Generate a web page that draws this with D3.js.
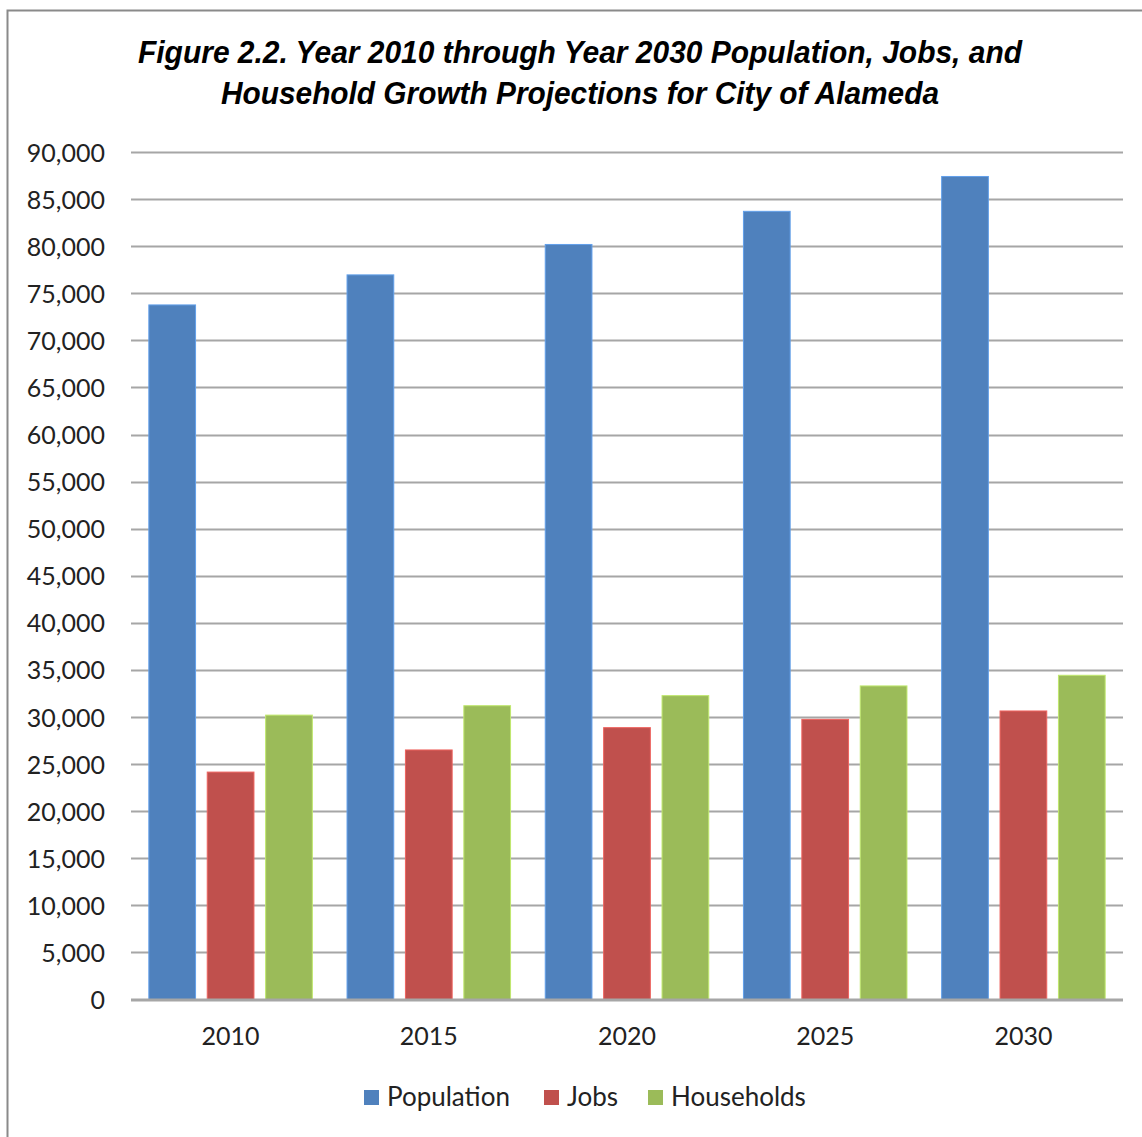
<!DOCTYPE html>
<html>
<head>
<meta charset="utf-8">
<script src="https://cdn.jsdelivr.net/npm/d3@7"></script>
<style>
  body { margin: 0; background: #fff; }
  svg { display: block; }
</style>
</head>
<body>
<svg id="chart" width="1142" height="1137"></svg>
<script>
// Data
var years = ["2010", "2015", "2020", "2025", "2030"];
var seriesNames = ["Population", "Jobs", "Households"];
var population = [73760, 76950, 80180, 83700, 87400];
var jobs = [24150, 26500, 28870, 29750, 30640];
var households = [30200, 31200, 32270, 33300, 34430];
var yTicks = [0, 5000, 10000, 15000, 20000, 25000, 30000, 35000, 40000, 45000,
              50000, 55000, 60000, 65000, 70000, 75000, 80000, 85000, 90000];
var titleLines = ["Figure 2.2. Year 2010 through Year 2030 Population, Jobs, and",
                  "Household Growth Projections for City of Alameda"];

var colors = ["#4F81BD", "#C0504D", "#9BBB59"];
var font = "Lato, 'Open Sans', sans-serif";

// build rows for the grouped bars
var rows = years.map(function (yr, i) {
  return { year: yr, values: [population[i], jobs[i], households[i]] };
});

var svg = d3.select("#chart");

// outer frame (only left and top edges are in view)
svg.append("rect")
  .attr("x", 7.5).attr("y", 10.5)
  .attr("width", 1200).attr("height", 1200)
  .attr("fill", "#fff")
  .attr("stroke", "#8a8a8a")
  .attr("stroke-width", 2);

// title
svg.append("g").selectAll("text")
  .data(titleLines)
  .enter().append("text")
  .attr("x", 580)
  .attr("y", function (d, i) { return 63 + i * 41; })
  .attr("text-anchor", "middle")
  .attr("textLength", function (d, i) { return i == 0 ? 884 : 718; })
  .attr("lengthAdjust", "spacingAndGlyphs")
  .style("font-family", "'Liberation Sans Narrow', 'Liberation Sans', sans-serif")
  .style("font-weight", "bold")
  .style("font-style", "italic")
  .style("font-size", "31px")
  .text(function (d) { return d; });

// plot area
var plotLeft = 131, plotRight = 1123, plotTop = 152, plotBottom = 999.5;

var y = d3.scaleLinear()
  .domain([0, 90000])
  .range([plotBottom, plotTop]);

var x0 = d3.scaleBand()
  .domain(years)
  .range([plotLeft, plotRight])
  .paddingInner(0.175)
  .paddingOuter(0.09);

var x1 = d3.scaleBand()
  .domain(seriesNames)
  .range([0, x0.bandwidth()])
  .paddingInner(0.2);

// gridlines
svg.append("g").selectAll("line")
  .data(yTicks)
  .enter().append("line")
  .attr("x1", plotLeft).attr("x2", plotRight)
  .attr("y1", function (d) { return Math.round(y(d)) + 0.5; })
  .attr("y2", function (d) { return Math.round(y(d)) + 0.5; })
  .attr("stroke", "#a6a6a6")
  .attr("stroke-width", 2);

// y axis labels
var yAxis = d3.axisLeft(y)
  .tickValues(yTicks)
  .tickFormat(d3.format(","))
  .tickSize(0)
  .tickPadding(0);

svg.append("g")
  .attr("transform", "translate(105,0)")
  .call(yAxis)
  .call(function (g) { g.select(".domain").remove(); })
  .selectAll("text")
  .attr("dy", "0.36em")
  .style("font-family", font)
  .style("font-size", "25px")
  .attr("fill", "#222");

// bars
var groups = svg.append("g").selectAll("g")
  .data(rows)
  .enter().append("g")
  .attr("transform", function (d) { return "translate(" + x0(d.year) + ",0)"; });

groups.selectAll("rect")
  .data(function (d) {
    return d.values.map(function (v, k) { return { name: seriesNames[k], value: v, k: k }; });
  })
  .enter().append("rect")
  .attr("x", function (d) { return x1(d.name); })
  .attr("y", function (d) { return y(d.value); })
  .attr("width", x1.bandwidth())
  .attr("height", function (d) { return y(0) - y(d.value); })
  .attr("fill", function (d) { return colors[d.k]; })
  .attr("stroke", function (d) { return d3.color(colors[d.k]).brighter(0.6); })
  .attr("stroke-width", 1);

// baseline
svg.append("line")
  .attr("x1", plotLeft).attr("x2", plotRight)
  .attr("y1", plotBottom).attr("y2", plotBottom)
  .attr("stroke", "#a6a6a6")
  .attr("stroke-width", 2);

// x axis labels
var xAxis = d3.axisBottom(x0).tickSize(0).tickPadding(0);
svg.append("g")
  .attr("transform", "translate(0,1045)")
  .call(xAxis)
  .call(function (g) { g.select(".domain").remove(); })
  .selectAll("text")
  .attr("dy", "0")
  .style("font-family", font)
  .style("font-size", "25px")
  .attr("fill", "#222");

// legend
var legendX = [364, 544, 648];
var legend = svg.append("g").selectAll("g")
  .data(seriesNames)
  .enter().append("g")
  .attr("transform", function (d, i) { return "translate(" + legendX[i] + ",1090)"; });

legend.append("rect")
  .attr("width", 15).attr("height", 15)
  .attr("fill", function (d, i) { return colors[i]; });

legend.append("text")
  .attr("x", 23)
  .attr("y", 16)
  .style("font-family", font)
  .style("font-size", "26px")
  .attr("fill", "#222")
  .text(function (d) { return d; });
</script>
</body>
</html>
